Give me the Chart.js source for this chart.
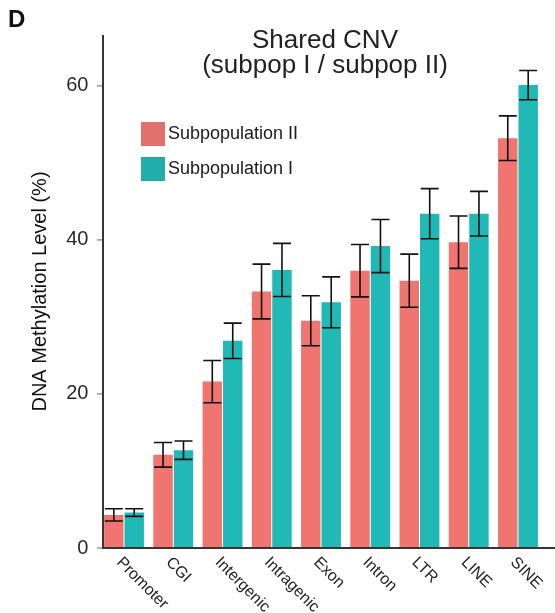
<!DOCTYPE html>
<html>
<head>
<meta charset="utf-8">
<script src="https://cdn.jsdelivr.net/npm/chart.js@4.4.0/dist/chart.umd.min.js"></script>
<style>
    body { margin: 0; background: #fff; }
    #wrap { width: 555px; height: 613px; }
</style>
</head>
<body>
<div id="wrap"><canvas id="methChart" width="555" height="613"></canvas></div>
<script>
// Shared CNV - DNA methylation by genomic feature
const categories = ['Promoter', 'CGI', 'Intergenic', 'Intragenic', 'Exon', 'Intron', 'LTR', 'LINE', 'SINE'];

const subpop2Values = [4.3, 12.1, 21.6, 33.3, 29.5, 36.0, 34.7, 39.7, 53.2];
const subpop2Errors = [0.8, 1.6, 2.75, 3.55, 3.25, 3.4, 3.45, 3.4, 2.9];

const subpop1Values = [4.6, 12.7, 26.9, 36.1, 31.9, 39.2, 43.4, 43.4, 60.1];
const subpop1Errors = [0.5, 1.2, 2.3, 3.45, 3.3, 3.45, 3.25, 2.9, 1.9];

const yTicks = [0, 20, 40, 60];

const FONT = '"Liberation Sans", Arial, Helvetica, sans-serif';
const RED = '#f07470';
const TEAL = '#20b9b5';

// draws axis lines, error bars, legend, title and rotated x labels
const decorPlugin = {
    id: 'decor',
    afterDatasetsDraw(chart) {
        const ctx = chart.ctx;
        const area = chart.chartArea;
        const yScale = chart.scales.y;
        const axisX = area.left + 3.6;

        // error bars
        ctx.save();
        ctx.strokeStyle = '#111';
        ctx.lineWidth = 1.6;
        chart.data.datasets.forEach((ds, di) => {
            const meta = chart.getDatasetMeta(di);
            meta.data.forEach((bar, i) => {
                const v = ds.data[i];
                const e = ds.errors[i];
                const yTop = yScale.getPixelForValue(v + e);
                const yBot = yScale.getPixelForValue(v - e);
                const half = 9;
                ctx.beginPath();
                ctx.moveTo(bar.x, yTop);
                ctx.lineTo(bar.x, yBot);
                ctx.moveTo(bar.x - half, yTop);
                ctx.lineTo(bar.x + half, yTop);
                ctx.moveTo(bar.x - half, yBot);
                ctx.lineTo(bar.x + half, yBot);
                ctx.stroke();
            });
        });
        ctx.restore();

        // axis lines and tick marks
        ctx.save();
        ctx.strokeStyle = '#3a3431';
        ctx.lineWidth = 2;
        ctx.beginPath();
        ctx.moveTo(axisX, area.top);
        ctx.lineTo(axisX, area.bottom);
        ctx.lineTo(chart.width, area.bottom);
        ctx.stroke();
        ctx.strokeStyle = '#999';
        ctx.lineWidth = 1.5;
        yTicks.forEach(t => {
            const y = yScale.getPixelForValue(t);
            ctx.beginPath();
            ctx.moveTo(axisX - 6, y);
            ctx.lineTo(axisX - 1, y);
            ctx.stroke();
        });
        ctx.restore();

        // x labels, rotated 45 deg
        const xScale = chart.scales.x;
        ctx.save();
        ctx.fillStyle = '#222';
        ctx.font = '16px ' + FONT;
        ctx.textAlign = 'left';
        ctx.textBaseline = 'middle';
        categories.forEach((c, i) => {
            const x = xScale.getPixelForValue(i);
            ctx.save();
            ctx.translate(x - 5, area.bottom + 12);
            ctx.rotate(Math.PI / 4);
            ctx.fillText(c, 0, 0);
            ctx.restore();
        });
        ctx.restore();

        // legend inside plot
        ctx.save();
        ctx.font = '18px ' + FONT;
        ctx.textAlign = 'left';
        ctx.textBaseline = 'middle';
        chart.data.datasets.forEach((ds, di) => {
            const lx = area.left + 41.6;
            const ly = area.top + 87 + di * 35;
            ctx.fillStyle = ds.legendColor;
            ctx.fillRect(lx, ly, 24, 24);
            ctx.fillStyle = '#1a1a1a';
            ctx.fillText(ds.label, lx + 27, ly + 12);
        });
        ctx.restore();

        // title
        ctx.save();
        ctx.font = '26px ' + FONT;
        ctx.fillStyle = '#222';
        ctx.textAlign = 'center';
        ctx.textBaseline = 'alphabetic';
        const cx = (area.left + area.right) / 2 + 4;
        ctx.fillText('Shared CNV', cx, 48);
        ctx.fillText('(subpop I / subpop II)', cx, 73);
        ctx.restore();

        // panel letter
        ctx.save();
        ctx.font = 'bold 24px ' + FONT;
        ctx.fillStyle = '#111';
        ctx.fillText('D', 8, 27);
        ctx.restore();
    }
};

function createChart() {
    const ctx = document.getElementById('methChart').getContext('2d');

    new Chart(ctx, {
        type: 'bar',
        data: {
            labels: categories,
            datasets: [{
                label: 'Subpopulation II',
                data: subpop2Values,
                errors: subpop2Errors,
                backgroundColor: RED,
                legendColor: '#e0716d',
                borderWidth: 0,
                barPercentage: 0.95,
                categoryPercentage: 0.83
            }, {
                label: 'Subpopulation I',
                data: subpop1Values,
                errors: subpop1Errors,
                backgroundColor: TEAL,
                legendColor: '#22adad',
                borderWidth: 0,
                barPercentage: 0.95,
                categoryPercentage: 0.83
            }]
        },
        options: {
            responsive: false,
            animation: false,
            layout: {
                padding: { top: 35, right: 12.4, bottom: 65, left: 0 }
            },
            plugins: {
                legend: { display: false },
                title: { display: false },
                tooltip: { enabled: false }
            },
            scales: {
                x: {
                    grid: { display: false, drawTicks: false },
                    border: { display: false },
                    ticks: { display: false },
                    afterFit: s => { s.height = 0; }
                },
                y: {
                    min: 0,
                    max: 66.6,
                    border: { display: false },
                    grid: { display: false, drawTicks: false },
                    ticks: {
                        stepSize: 20,
                        padding: 11,
                        color: '#2a2a2a',
                        font: { family: FONT, size: 20 }
                    },
                    afterBuildTicks: s => {
                        s.ticks = yTicks.map(v => ({ value: v }));
                    },
                    title: {
                        display: true,
                        text: 'DNA Methylation Level (%)',
                        color: '#111',
                        font: { family: FONT, size: 20 },
                        padding: { top: 28, bottom: 0 }
                    },
                    afterFit: s => { s.width = 99.4; }
                }
            }
        },
        plugins: [decorPlugin]
    });
}

createChart();
</script>
</body>
</html>
